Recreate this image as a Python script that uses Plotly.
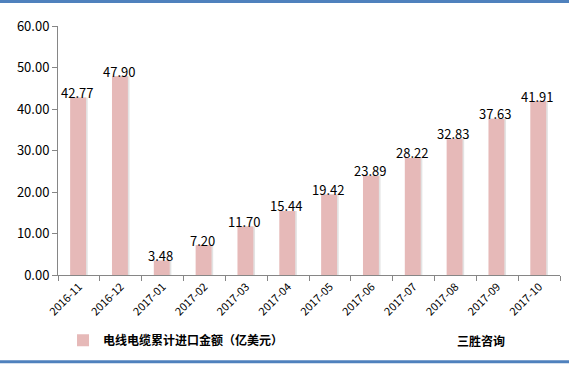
import plotly.graph_objects as go

categories = ["2016-11", "2016-12", "2017-01", "2017-02", "2017-03", "2017-04",
              "2017-05", "2017-06", "2017-07", "2017-08", "2017-09", "2017-10"]
values = [42.77, 47.90, 3.48, 7.20, 11.70, 15.44, 19.42, 23.89, 28.22, 32.83, 37.63, 41.91]
series_name = "电线电缆累计进口金额（亿美元）"
source_text = "三胜咨询"
y_ticks = [0, 10, 20, 30, 40, 50, 60]

FONT = "Noto Sans CJK SC, Noto Sans, DejaVu Sans, sans-serif"

fig = go.Figure()
# shadow
fig.add_trace(go.Bar(x=categories, y=values, width=0.38, offset=-0.17,
                     marker=dict(color="#e3e3e3", line=dict(width=0)),
                     showlegend=False, hoverinfo="skip"))
fig.add_trace(go.Bar(x=categories, y=values, width=0.38, offset=-0.21,
                     marker=dict(color="#E6B9B8", line=dict(width=0)),
                     name=series_name))

for c, v in zip(categories, values):
    fig.add_annotation(x=c, y=v, text=f"{v:.2f}", showarrow=False,
                       yanchor="middle", yshift=5, xshift=-2,
                       font=dict(size=13, color="#000000", family=FONT))

fig.add_annotation(xref="paper", yref="paper", x=0.79, y=-0.262, text=source_text,
                   showarrow=False, xanchor="left", yanchor="middle",
                   font=dict(size=12, color="#000000", family=FONT, weight="bold"))

# frame lines top/bottom
fig.add_shape(type="line", xref="paper", yref="paper", x0=-0.2, x1=1.1, y0=1.098, y1=1.098,
              line=dict(color="#4F81BD", width=3))
fig.add_shape(type="line", xref="paper", yref="paper", x0=-0.2, x1=1.1, y0=-0.348, y1=-0.348,
              line=dict(color="#4F81BD", width=3))

fig.update_layout(
    width=569, height=365,
    margin=dict(l=58, r=9, t=26, b=90),
    paper_bgcolor="white", plot_bgcolor="white",
    barmode="overlay",
    font=dict(family=FONT, color="#000000"),
    showlegend=True,
    legend=dict(orientation="h", x=0.01, y=-0.262, xanchor="left", yanchor="middle",
                font=dict(size=12, color="#000000", family=FONT, weight="bold"),
                itemwidth=30, bgcolor="rgba(0,0,0,0)"),
    xaxis=dict(type="category", showline=True, linecolor="#868686", linewidth=1,
               ticks="outside", tickson="boundaries", ticklen=5, tickcolor="#868686",
               tickangle=-45, tickfont=dict(size=11, family=FONT, color="#000000"),
               showgrid=False, range=[-0.5, 11.5]),
    yaxis=dict(range=[0, 60], tickvals=y_ticks, tickformat=".2f", showline=True,
               linecolor="#868686", linewidth=1, ticks="outside", ticklen=5,
               tickcolor="#868686", showgrid=False, zeroline=False,
               tickfont=dict(size=13, family=FONT, color="#000000")),
)

fig.write_html("out.html")
